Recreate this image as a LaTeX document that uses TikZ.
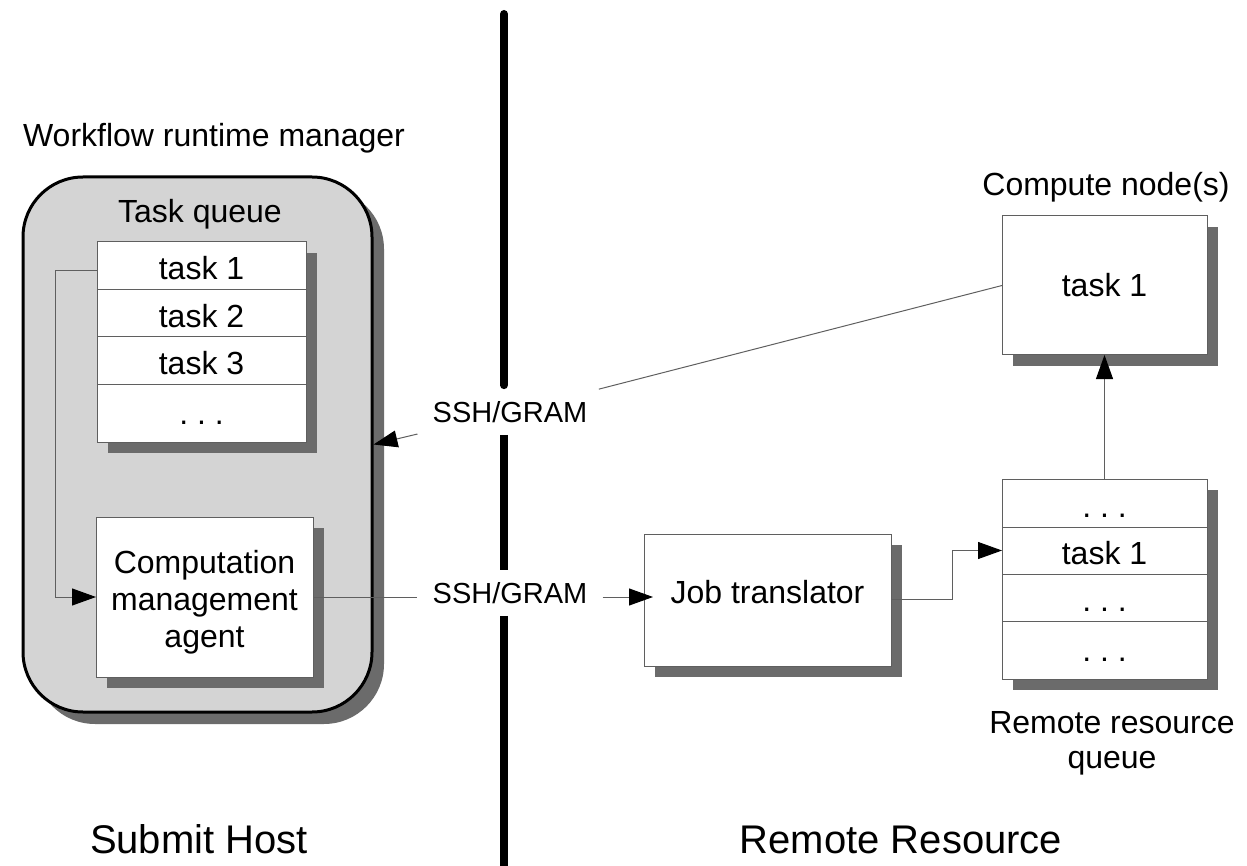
\documentclass[tikz,border=0pt]{standalone}
\usepackage{fontspec}
\setmainfont{Liberation Sans}
\usetikzlibrary{arrows.meta,shadows,calc}
\definecolor{panelgray}{RGB}{212,212,212}
\definecolor{shadowgray}{RGB}{107,107,107}
\definecolor{edgegray}{RGB}{95,95,95}
\begin{document}
\begin{tikzpicture}[x=1pt,y=-1pt,
  every node/.style={font=\fontsize{32}{37}\selectfont},
  box/.style={draw=edgegray, line width=1pt, fill=white, inner sep=0pt, outer sep=0pt},
  shadowed/.style={drop shadow={opacity=1,fill=shadowgray,shadow xshift=#1,shadow yshift=-#1}},
  shadowed/.default=11pt,
  row/.style={box, text height=28pt, text depth=0pt},
  lastrow/.style={box, text height=22pt, text depth=0pt},
  conn/.style={draw=edgegray, line width=1pt},
  arr/.style={conn, -{Triangle[length=24pt,width=17pt,color=black]}},
  divider/.style={draw=black, line width=8pt},
  ssh/.style={font=\fontsize{29}{34}\selectfont, inner xsep=15pt, inner ysep=12pt},
  bigtext/.style={font=\fontsize{40}{46}\selectfont}
]
\useasboundingbox (0,0) rectangle (1247,866);

% Submit host panel
\node[draw=black, line width=3pt, fill=panelgray, rounded corners=60pt,
      minimum width=349pt, minimum height=535pt, shadowed=12pt] (wrm) at (197.5,444.5) {};
\node[anchor=base] (wrmlabel) at (214,147) {Workflow runtime manager};
\node[anchor=base] (tqlabel) at (200,223) {Task queue};

% task queue table
\node[box, shadowed, minimum width=209pt, minimum height=200pt] (tq) at (201.5,342) {};
\node[row, minimum width=209pt, minimum height=48pt] (t1) at (201.5,266) {task 1};
\node[row, minimum width=209pt, minimum height=47pt] (t2) at (201.5,313.5) {task 2};
\node[row, minimum width=209pt, minimum height=47pt] (t3) at (201.5,360.5) {task 3};
\node[lastrow, minimum width=209pt, minimum height=58pt] (t4) at (201.5,413) {.\ .\ .};

% computation management agent
\node[box, shadowed, minimum width=217pt, minimum height=160pt, align=center,
      text height=100pt, text depth=0pt]
  (agent) at (204.5,597) {Computation\\management\\agent};

% remote side
\node[box, shadowed, minimum width=205pt, minimum height=139pt] (cn) at (1104.5,285.5) {task 1};
\node[anchor=base] (cnlabel) at (1106,196) {Compute node(s)};

\node[box, shadowed, minimum width=247pt, minimum height=132pt, text height=23pt, text depth=16pt]
  (jt) at (767.5,600) {Job translator};

\node[box, shadowed, minimum width=205pt, minimum height=200pt] (rq) at (1104.5,579) {};
\node[row, minimum width=205pt, minimum height=48pt] (r1) at (1104.5,503) {.\ .\ .};
\node[row, minimum width=205pt, minimum height=47pt] (r2) at (1104.5,550.5) {task 1};
\node[row, minimum width=205pt, minimum height=47pt] (r3) at (1104.5,597.5) {.\ .\ .};
\node[lastrow, minimum width=205pt, minimum height=58pt] (r4) at (1104.5,650) {.\ .\ .};
\node[align=center, font=\fontsize{32}{35}\selectfont] (rqlabel) at (1112,743) {Remote resource\\queue};

% protocol labels
\node[ssh] (ssh1) at (510,412) {SSH/GRAM};
\node[ssh] (ssh2) at (510,593) {SSH/GRAM};

% divider
\coordinate (dtop) at (504,14);
\coordinate (dbot) at (504,870);
\draw[divider, line cap=round, shorten >=4pt] (dtop) -- (dtop |- ssh1.north);
\draw[divider] (dtop |- ssh1.south) -- (dtop |- ssh2.north);
\draw[divider] (dtop |- ssh2.south) -- (dbot);

% bottom labels
\node[bigtext, anchor=base] (submit) at (199,853) {Submit Host};
\node[bigtext, anchor=base] (remote) at (901,853) {Remote Resource};

% connectors
\draw[arr] ($(t1.west)+(0,5)$) -- ++(-42,0) |- (agent.west);
\draw[conn] (agent.east) -- (agent.east -| ssh2.west);
\draw[arr, shorten >=-9pt] (agent.east -| ssh2.east) -- (agent.east -| jt.west);
\draw[arr] ($(jt.east)+(0,-1)$) -- ++(61,0) |- (r2.west);
\draw[arr] (r1.north) -- (cn.south);
\draw[conn] (cn.west) -- (ssh1);
\draw[arr] (ssh1) -- (wrm.east);
\end{tikzpicture}
\end{document}
